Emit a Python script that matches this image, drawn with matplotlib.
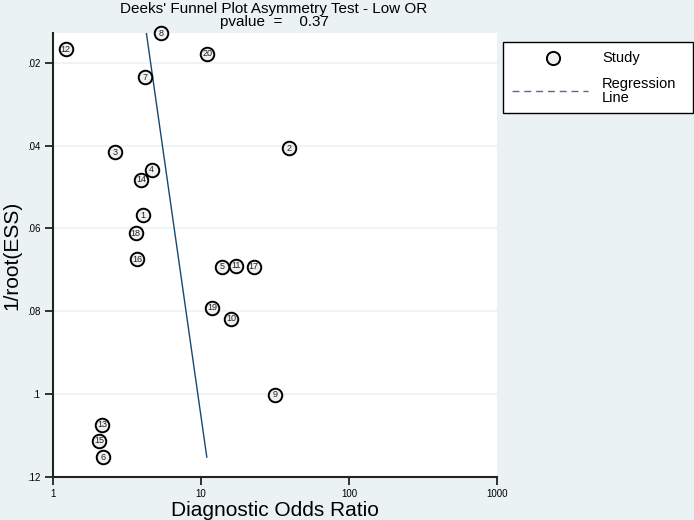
import numpy as np
import matplotlib
matplotlib.use('Agg')
import matplotlib.pyplot as plt
from matplotlib.patches import Rectangle

plt.rcParams['font.family'] = ['Liberation Sans', 'DejaVu Sans']

# dados
estudos = ['12', '8', '20', '7', '3', '2', '4', '14', '1', '18',
           '16', '5', '11', '17', '19', '10', '9', '13', '15', '6']
dor = [1.22, 5.39, 11.0, 4.18, 2.61, 39.1, 4.64, 3.95, 4.06, 3.62,
       3.71, 13.9, 17.3, 22.7, 11.9, 15.9, 31.6, 2.15, 2.05, 2.17]
inv_raiz_ess = [0.0167, 0.0129, 0.0178, 0.0235, 0.0416, 0.0407, 0.0458, 0.0483, 0.0568, 0.0612,
                0.0674, 0.0693, 0.0690, 0.0693, 0.0792, 0.0818, 0.1001, 0.1074, 0.1112, 0.1152]
# reta de regressao: ln(DOR) = a + b * 1/root(ESS)
reg_a = 1.334
reg_b = 9.18
pvalor = 0.37

fundo = '#eaf2f3'
azul = '#1a476f'
W, H = 694., 520.

def fx(px):
    return px / W

def fy(py):
    return 1 - py / H

fig = plt.figure(figsize=(6.94, 5.2), dpi=100, facecolor=fundo)
ax = fig.add_axes([0.0764, 0.0827, 0.640, 0.854])
ax.set_facecolor('white')

ax.set_xscale('log')
ax.set_xlim(1, 1000)
ax.set_ylim(0.12, 0.0128)

ax.set_yticks([0.02, 0.04, 0.06, 0.08, 0.1, 0.12])
ax.set_yticklabels(['.02', '.04', '.06', '.08', '.1', '.12'])
ax.set_xticks([1, 10, 100, 1000])
ax.set_xticklabels(['1', '10', '100', '1000'])
ax.minorticks_off()
ax.tick_params(labelsize=7, length=6, width=1.3, direction='out', color='#222222', pad=3)
ax.grid(True, axis='y', color=fundo, linewidth=1.2)
ax.set_axisbelow(True)

for lado in ['top', 'right']:
    ax.spines[lado].set_visible(False)
for lado in ['left', 'bottom']:
    ax.spines[lado].set_linewidth(1.5)
    ax.spines[lado].set_color('#222222')

# regressao
yy = np.array([min(inv_raiz_ess), max(inv_raiz_ess)])
ax.plot(np.exp(reg_a + reg_b * yy), yy, color=azul, linewidth=1.0, zorder=2)

# estudos
ax.scatter(dor, inv_raiz_ess, s=95, facecolor='#f0f0f0', edgecolor='black',
           linewidth=1.4, zorder=3, clip_on=False)
for e, x, y in zip(estudos, dor, inv_raiz_ess):
    ax.text(x, y, e, fontsize=6.5, ha='center', va='center', zorder=4, color='#222222')

ax.set_xlabel('Diagnostic Odds Ratio', fontsize=15, labelpad=1)
ax.set_ylabel('1/root(ESS)', fontsize=15, labelpad=4)

fig.text(fx(273.5), fy(2), "Deeks' Funnel Plot Asymmetry Test - Low OR", fontsize=11,
         ha='center', va='top')
fig.text(fx(274), fy(15), 'pvalue  =    %.2f' % pvalor, fontsize=11, ha='center', va='top')

# legenda
fig.patches.append(Rectangle((fx(503), fy(113)), fx(693) - fx(503), fy(42) - fy(113),
                             transform=fig.transFigure, facecolor='white',
                             edgecolor='black', linewidth=1.0))
fig.lines.append(plt.Line2D([fx(553)], [fy(58)], transform=fig.transFigure, marker='o',
                            markersize=9.5, markerfacecolor='#f0f0f0',
                            markeredgecolor='black', markeredgewidth=1.4, linestyle='none'))
fig.lines.append(plt.Line2D([fx(512), fx(588)], [fy(91), fy(91)], transform=fig.transFigure,
                            color='#4a6f8f', linestyle=(0, (5, 3.5)), linewidth=1.0))
fig.text(fx(602), fy(58), 'Study', fontsize=10.5, va='center', ha='left')
fig.text(fx(602), fy(91), 'Regression\nLine', fontsize=10.5, va='center', ha='left',
         linespacing=0.95)

plt.savefig('out.png', dpi=100, facecolor=fundo)
